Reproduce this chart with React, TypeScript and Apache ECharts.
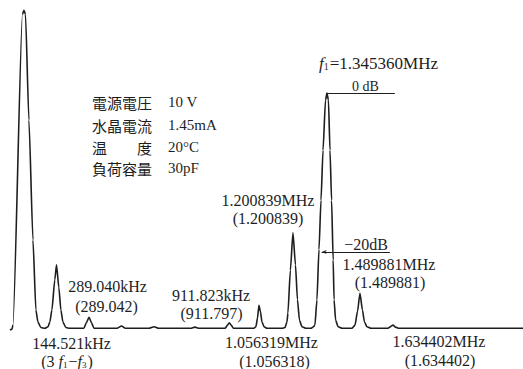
import React, { useEffect, useRef } from "react";
import * as echarts from "echarts";

// Spectrum trace: frequency (kHz) and level (dB, 0 dB = f1 carrier)
const TRACE_FREQ_KHZ = [
  -62, -53, -49, -6.7, 0, 6.7, 22, 40, 53, 62, 75, 93, 107, 115, 124, 137, 144.5, 155, 164, 173, 186, 204,
  266, 277, 289, 300, 311,
  413, 433.6, 450,
  555, 578, 598,
  740, 759, 778,
  893, 904, 911.8, 920, 930,
  1021, 1030, 1037, 1043.5, 1050, 1057, 1066, 1079,
  1146, 1159, 1168, 1172, 1183, 1194.5, 1205.6, 1214.5, 1223.4, 1234.5, 1252,
  1274, 1285.5, 1292, 1301, 1310, 1319, 1328, 1339, 1345.36, 1352, 1359, 1366, 1373, 1377, 1384, 1395, 1413,
  1456, 1470, 1481, 1492, 1503, 1512, 1523, 1541,
  1616, 1630, 1638.5, 1650, 1665,
  2216,
];
const TRACE_LEVEL_DB = [
  -29.8, -29.7, -29.2, 9.9, 10.4, 9.9, -3.4, -18.5, -27.3, -28.8, -29.5, -29.6, -29.4, -28.8, -27.3, -23.5, -21.6, -24.5, -27.3, -28.8, -29.5, -29.6,
  -29.6, -28.9, -28.2, -28.9, -29.6,
  -29.6, -29.3, -29.6,
  -29.6, -29.4, -29.6,
  -29.6, -29.45, -29.6,
  -29.6, -29.2, -28.9, -29.2, -29.6,
  -29.6, -29.4, -28.3, -26.7, -27.5, -28.8, -29.4, -29.6,
  -29.6, -29.5, -28.8, -27.7, -22.3, -17.6, -21.6, -26.0, -28.6, -29.4, -29.6,
  -29.6, -29.4, -29.2, -26.0, -19.7, -13.5, -7.2, -0.9, 0, -0.9, -7.2, -13.5, -21.0, -26.0, -28.6, -29.4, -29.6,
  -29.6, -29.2, -27.5, -25.2, -27.3, -28.8, -29.4, -29.6,
  -29.6, -29.35, -29.2, -29.45, -29.6,
  -29.6,
];

// Reference level lines [start kHz, end kHz, level dB]
const REF_0DB = [1345.36, 1647, 0];
const REF_20DB = [1322, 1625, -20];

// Peak annotations (measured, with computed value in parentheses)
const PEAK_TEXTS = [
  "1.489881MHz", "(1.489881)",
  "1.634402MHz", "(1.634402)",
  "1.200839MHz", "(1.200839)",
  "1.056319MHz", "(1.056318)",
  "911.823kHz", "(911.797)",
  "289.040kHz", "(289.042)",
  "144.521kHz",
];
const CONDITION_LABELS = ["電源電圧", "水晶電流", "温　　度", "負荷容量"];
const CONDITION_VALUES = ["10 V", "1.45mA", "20°C", "30pF"];

const SERIF = "'Liberation Serif', 'DejaVu Serif', 'Noto Sans CJK JP', serif";
const CJK = "'Noto Sans CJK JP', sans-serif";
const INK = "#1e1e1e";

function txt(text: string, x: number, y: number, size = 16, extra: any = {}) {
  return {
    type: "text",
    x,
    y,
    silent: true,
    style: {
      text,
      fontSize: size,
      fontFamily: SERIF,
      fill: INK,
      align: "center",
      verticalAlign: "middle",
      ...extra,
    },
  };
}

export default function App() {
  const ref = useRef<HTMLDivElement>(null);
  useEffect(() => {
    if (!ref.current) return;
    const chart = echarts.init(ref.current, undefined, { renderer: "svg" });
    const data = TRACE_FREQ_KHZ.map((f, i) => [f, TRACE_LEVEL_DB[i]]);
    const subRich = {
      i: { fontStyle: "italic", fontSize: 17, fontFamily: SERIF, color: INK },
      s: { fontSize: 10, fontFamily: SERIF, color: INK, padding: [7, 1, 0, 0] },
      n: { fontSize: 17, fontFamily: SERIF, color: INK },
    };
    const subRich2 = {
      i: { fontStyle: "italic", fontSize: 16, fontFamily: SERIF, color: INK },
      s: { fontSize: 9, fontFamily: SERIF, color: INK, padding: [7, 1, 0, 0] },
      n: { fontSize: 16, fontFamily: SERIF, color: INK },
    };
    const peakPos = [
      [389, 264], [390, 282],
      [439, 341], [440, 360],
      [268, 200], [268, 218],
      [271.5, 342], [274.5, 361],
      [211, 295], [211.5, 313],
      [107.5, 286], [106.5, 306],
      [71.5, 343],
    ];
    const graphic: any[] = [];
    PEAK_TEXTS.forEach((t, i) => graphic.push(txt(t, peakPos[i][0], peakPos[i][1], 16)));
    graphic.push(
      txt("{n|(3 }{i|f}{s|1}{n|−}{i|f}{s|3}{n|)}", 67, 361, 16, { rich: subRich2 })
    );
    graphic.push(txt("{i|f}{s|1}{n|=1.345360MHz}", 378.5, 63, 17, { rich: subRich }));
    graphic.push(txt("0 dB", 365.5, 86, 14));
    graphic.push(txt("−20dB", 366, 244, 16));
    const rowsY = [102, 125, 147, 168];
    CONDITION_LABELS.forEach((l, i) => {
      graphic.push(txt(l, 92, rowsY[i], 15, { align: "left", fontFamily: CJK }));
      graphic.push(txt(CONDITION_VALUES[i], 168, rowsY[i], 15, { align: "left" }));
    });

    chart.setOption({
      animation: false,
      backgroundColor: "#ffffff",
      grid: { left: 10, right: 0, top: 5.55, bottom: 5.7 },
      xAxis: { type: "value", min: -62, max: 2216, show: false },
      yAxis: { type: "value", min: -34, max: 11, show: false },
      series: [
        {
          type: "line",
          data,
          showSymbol: false,
          clip: false,
          smooth: 0.2,
          smoothMonotone: "x",
          lineStyle: { color: INK, width: 1.6, join: "round" },
          markLine: {
            silent: true,
            label: { show: false },
            lineStyle: { color: INK, width: 1, type: "solid" },
            data: [
              [
                { coord: [REF_0DB[0], REF_0DB[2]], symbol: "none" },
                { coord: [REF_0DB[1], REF_0DB[2]], symbol: "none" },
              ],
              [
                { coord: [REF_20DB[0], REF_20DB[2]], symbol: "arrow", symbolSize: [3, 5] },
                { coord: [REF_20DB[1], REF_20DB[2]], symbol: "none" },
              ],
            ],
          },
        },
      ],
      graphic,
    });
    return () => chart.dispose();
  }, []);
  return (
    <div
      ref={ref}
      style={{ position: "fixed", left: 0, top: 0, width: 523, height: 369 }}
    />
  );
}
